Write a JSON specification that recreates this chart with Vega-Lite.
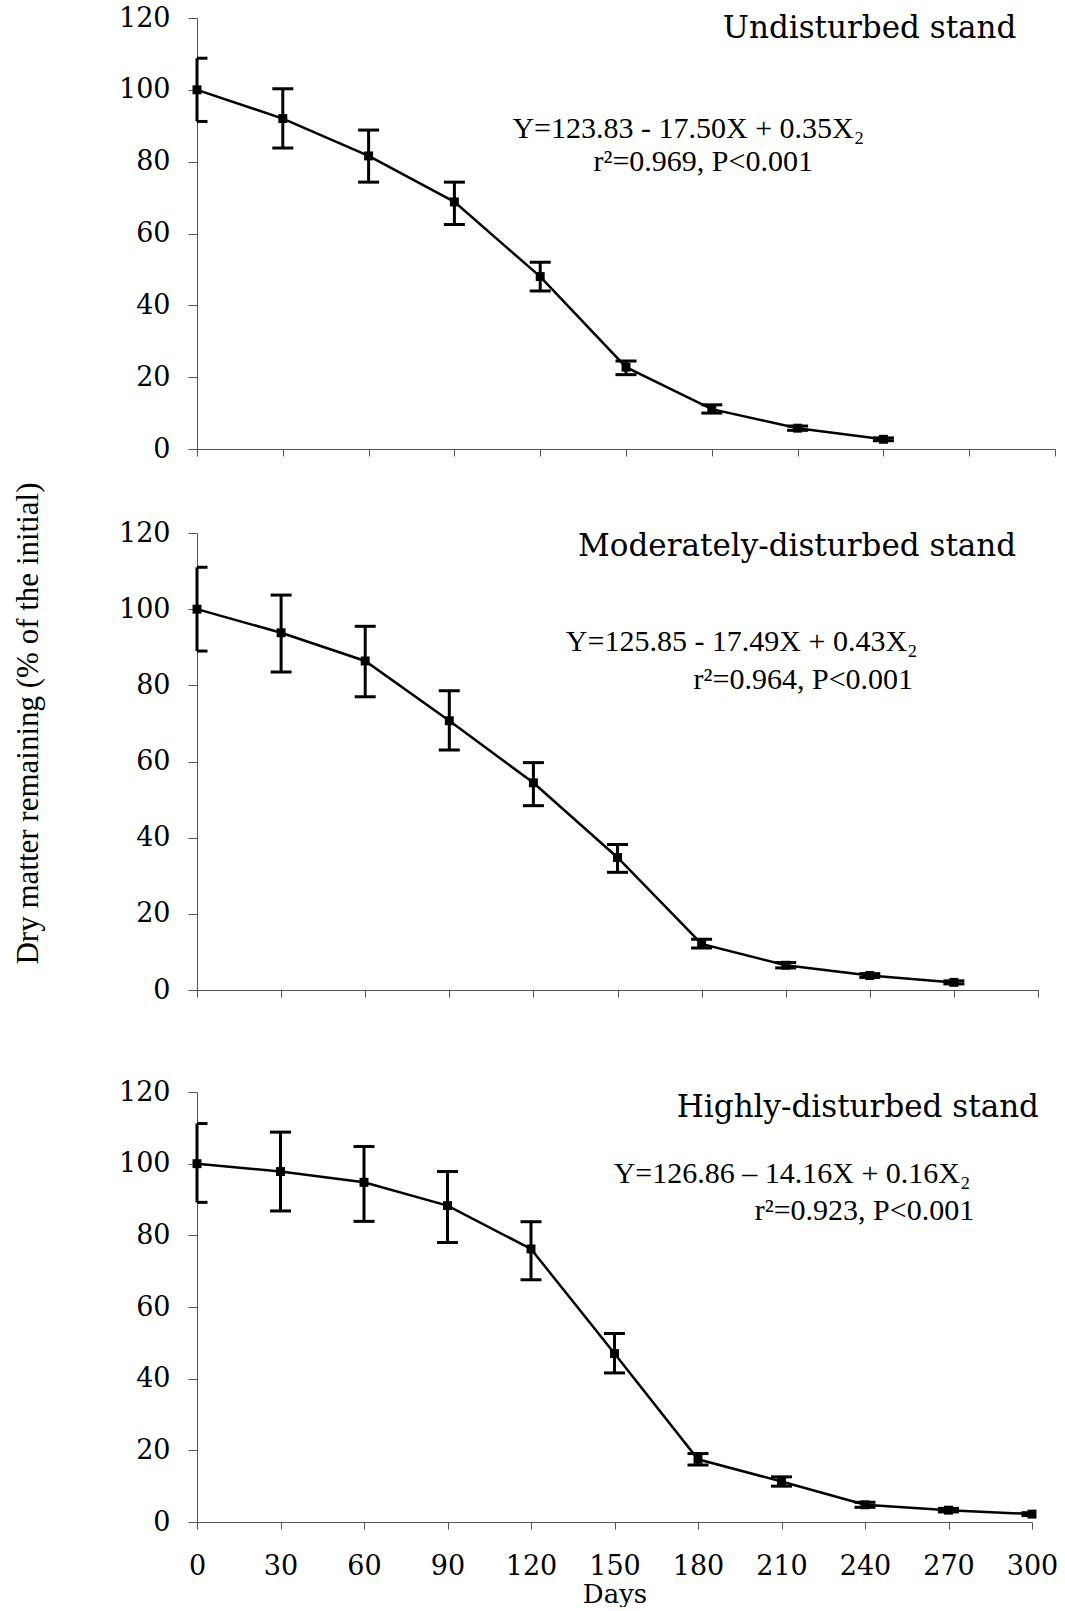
{
  "$schema": "https://vega.github.io/schema/vega-lite/v6.json",
  "background": "white",
  "padding": {"left": 12, "top": 4, "right": 5, "bottom": 0},
  "config": {
    "view": {"stroke": null},
    "axis": {"grid": false, "domainColor": "#555", "tickColor": "#555", "domainWidth": 1, "tickWidth": 1, "labelColor": "#000", "labelFont": "DejaVu Serif", "labelFontSize": 27, "labelFlush": false, "titleFont": "Liberation Serif", "titleFontWeight": "normal", "titleColor": "#000"},
    "axisY": {"tickSize": 9, "labelPadding": 18},
    "axisX": {"tickSize": 7}
  },
  "datasets": {
    "decay": [
      {"stand": "Undisturbed", "day": 0, "mean": 100, "lo": 91.2, "hi": 108.8},
      {"stand": "Undisturbed", "day": 30, "mean": 92, "lo": 83.8, "hi": 100.3},
      {"stand": "Undisturbed", "day": 60, "mean": 81.6, "lo": 74.3, "hi": 88.8},
      {"stand": "Undisturbed", "day": 90, "mean": 68.8, "lo": 62.5, "hi": 74.3},
      {"stand": "Undisturbed", "day": 120, "mean": 48, "lo": 44, "hi": 52},
      {"stand": "Undisturbed", "day": 150, "mean": 22.8, "lo": 20.7, "hi": 24.5},
      {"stand": "Undisturbed", "day": 180, "mean": 11.1, "lo": 10, "hi": 12.3},
      {"stand": "Undisturbed", "day": 210, "mean": 5.8, "lo": 5.2, "hi": 6.4},
      {"stand": "Undisturbed", "day": 240, "mean": 2.7, "lo": 2.3, "hi": 3.1},
      {"stand": "Moderately", "day": 0, "mean": 100, "lo": 89, "hi": 111},
      {"stand": "Moderately", "day": 30, "mean": 93.8, "lo": 83.5, "hi": 103.7},
      {"stand": "Moderately", "day": 60, "mean": 86.4, "lo": 77, "hi": 95.5},
      {"stand": "Moderately", "day": 90, "mean": 70.7, "lo": 63, "hi": 78.6},
      {"stand": "Moderately", "day": 120, "mean": 54.4, "lo": 48.4, "hi": 59.7},
      {"stand": "Moderately", "day": 150, "mean": 34.8, "lo": 30.9, "hi": 38.2},
      {"stand": "Moderately", "day": 180, "mean": 12.1, "lo": 11, "hi": 13.3},
      {"stand": "Moderately", "day": 210, "mean": 6.5, "lo": 5.8, "hi": 7.2},
      {"stand": "Moderately", "day": 240, "mean": 3.8, "lo": 3.3, "hi": 4.3},
      {"stand": "Moderately", "day": 270, "mean": 2.0, "lo": 1.6, "hi": 2.4},
      {"stand": "Highly", "day": 0, "mean": 100, "lo": 89.2, "hi": 111.2},
      {"stand": "Highly", "day": 30, "mean": 97.8, "lo": 86.8, "hi": 108.8},
      {"stand": "Highly", "day": 60, "mean": 94.8, "lo": 83.9, "hi": 104.8},
      {"stand": "Highly", "day": 90, "mean": 88.3, "lo": 78, "hi": 97.8},
      {"stand": "Highly", "day": 120, "mean": 76.2, "lo": 67.6, "hi": 83.8},
      {"stand": "Highly", "day": 150, "mean": 47, "lo": 41.6, "hi": 52.6},
      {"stand": "Highly", "day": 180, "mean": 17.5, "lo": 15.9, "hi": 19.1},
      {"stand": "Highly", "day": 210, "mean": 11.3, "lo": 10, "hi": 12.6},
      {"stand": "Highly", "day": 240, "mean": 4.8, "lo": 4.1, "hi": 5.5},
      {"stand": "Highly", "day": 270, "mean": 3.3, "lo": 2.8, "hi": 3.8},
      {"stand": "Highly", "day": 300, "mean": 2.2, "lo": 1.8, "hi": 2.6}
    ]
  },
  "spacing": 75,
  "bounds": "full",
  "vconcat": [
    {
      "spacing": 19,
      "bounds": "full",
      "vconcat": [
        {
          "width": 858,
          "height": 431,
          "layer": [
            {
              "data": {"name": "decay"},
              "transform": [{"filter": "datum.stand === 'Undisturbed'"}],
              "encoding": {
                "x": {"field": "day", "type": "quantitative", "scale": {"domain": [0, 300], "nice": false}, "axis": {"values": [0, 30, 60, 90, 120, 150, 180, 210, 240, 270, 300], "labels": false, "title": null}}
              },
              "layer": [
                {"mark": {"type": "rule", "color": "#000", "strokeWidth": 3}, "encoding": {"y": {"field": "lo", "type": "quantitative", "scale": {"domain": [0, 120], "nice": false}, "axis": {"values": [0, 20, 40, 60, 80, 100, 120], "title": null}}, "y2": {"field": "hi"}}},
                {"mark": {"type": "tick", "orient": "horizontal", "size": 21, "thickness": 3, "color": "#000", "opacity": 1, "clip": true}, "encoding": {"y": {"field": "lo", "type": "quantitative", "scale": {"domain": [0, 120], "nice": false}, "axis": {"values": [0, 20, 40, 60, 80, 100, 120], "title": null}}}},
                {"mark": {"type": "tick", "orient": "horizontal", "size": 21, "thickness": 3, "color": "#000", "opacity": 1, "clip": true}, "encoding": {"y": {"field": "hi", "type": "quantitative", "scale": {"domain": [0, 120], "nice": false}, "axis": {"values": [0, 20, 40, 60, 80, 100, 120], "title": null}}}},
                {"mark": {"type": "line", "color": "#000", "strokeWidth": 2.5}, "encoding": {"y": {"field": "mean", "type": "quantitative", "scale": {"domain": [0, 120], "nice": false}, "axis": {"values": [0, 20, 40, 60, 80, 100, 120], "title": null}}}},
                {"mark": {"type": "point", "shape": "square", "filled": true, "size": 80, "color": "#000", "opacity": 1}, "encoding": {"y": {"field": "mean", "type": "quantitative", "scale": {"domain": [0, 120], "nice": false}, "axis": {"values": [0, 20, 40, 60, 80, 100, 120], "title": null}}}}
              ]
            },
            {"data": {"values": [{}]}, "mark": {"type": "text", "align": "right", "baseline": "middle", "font": "DejaVu Serif", "fontSize": 31, "color": "#000", "text": "Undisturbed stand"}, "encoding": {"x": {"datum": 286.5, "type": "quantitative", "scale": {"domain": [0, 300], "nice": false}}, "y": {"datum": 117, "type": "quantitative", "scale": {"domain": [0, 120], "nice": false}}}},
            {"data": {"values": [{}]}, "mark": {"type": "text", "align": "center", "baseline": "middle", "font": "Liberation Serif", "fontSize": 30, "color": "#000", "text": "Y=123.83 - 17.50X + 0.35X₂"}, "encoding": {"x": {"datum": 171.8, "type": "quantitative", "scale": {"domain": [0, 300], "nice": false}}, "y": {"datum": 89.1, "type": "quantitative", "scale": {"domain": [0, 120], "nice": false}}}},
            {"data": {"values": [{}]}, "mark": {"type": "text", "align": "center", "baseline": "middle", "font": "Liberation Serif", "fontSize": 30, "color": "#000", "text": "r²=0.969, P<0.001"}, "encoding": {"x": {"datum": 177, "type": "quantitative", "scale": {"domain": [0, 300], "nice": false}}, "y": {"datum": 80, "type": "quantitative", "scale": {"domain": [0, 120], "nice": false}}}}
          ]
        },
        {
          "width": 841,
          "height": 457,
          "layer": [
            {
              "data": {"name": "decay"},
              "transform": [{"filter": "datum.stand === 'Moderately'"}],
              "encoding": {
                "x": {"field": "day", "type": "quantitative", "scale": {"domain": [0, 300], "nice": false}, "axis": {"values": [0, 30, 60, 90, 120, 150, 180, 210, 240, 270, 300], "labels": false, "title": null}}
              },
              "layer": [
                {"mark": {"type": "rule", "color": "#000", "strokeWidth": 3}, "encoding": {"y": {"field": "lo", "type": "quantitative", "scale": {"domain": [0, 120], "nice": false}, "axis": {"values": [0, 20, 40, 60, 80, 100, 120], "title": "Dry matter remaining (% of the initial)", "titleFontSize": 31, "titlePadding": 74, "titleY": 190}}, "y2": {"field": "hi"}}},
                {"mark": {"type": "tick", "orient": "horizontal", "size": 21, "thickness": 3, "color": "#000", "opacity": 1, "clip": true}, "encoding": {"y": {"field": "lo", "type": "quantitative", "scale": {"domain": [0, 120], "nice": false}, "axis": {"values": [0, 20, 40, 60, 80, 100, 120], "title": "Dry matter remaining (% of the initial)", "titleFontSize": 31, "titlePadding": 74, "titleY": 190}}}},
                {"mark": {"type": "tick", "orient": "horizontal", "size": 21, "thickness": 3, "color": "#000", "opacity": 1, "clip": true}, "encoding": {"y": {"field": "hi", "type": "quantitative", "scale": {"domain": [0, 120], "nice": false}, "axis": {"values": [0, 20, 40, 60, 80, 100, 120], "title": "Dry matter remaining (% of the initial)", "titleFontSize": 31, "titlePadding": 74, "titleY": 190}}}},
                {"mark": {"type": "line", "color": "#000", "strokeWidth": 2.5}, "encoding": {"y": {"field": "mean", "type": "quantitative", "scale": {"domain": [0, 120], "nice": false}, "axis": {"values": [0, 20, 40, 60, 80, 100, 120], "title": "Dry matter remaining (% of the initial)", "titleFontSize": 31, "titlePadding": 74, "titleY": 190}}}},
                {"mark": {"type": "point", "shape": "square", "filled": true, "size": 80, "color": "#000", "opacity": 1}, "encoding": {"y": {"field": "mean", "type": "quantitative", "scale": {"domain": [0, 120], "nice": false}, "axis": {"values": [0, 20, 40, 60, 80, 100, 120], "title": "Dry matter remaining (% of the initial)", "titleFontSize": 31, "titlePadding": 74, "titleY": 190}}}}
              ]
            },
            {"data": {"values": [{}]}, "mark": {"type": "text", "align": "right", "baseline": "middle", "font": "DejaVu Serif", "fontSize": 31, "color": "#000", "text": "Moderately-disturbed stand"}, "encoding": {"x": {"datum": 292.2, "type": "quantitative", "scale": {"domain": [0, 300], "nice": false}}, "y": {"datum": 116.3, "type": "quantitative", "scale": {"domain": [0, 120], "nice": false}}}},
            {"data": {"values": [{}]}, "mark": {"type": "text", "align": "center", "baseline": "middle", "font": "Liberation Serif", "fontSize": 30, "color": "#000", "text": "Y=125.85 - 17.49X + 0.43X₂"}, "encoding": {"x": {"datum": 194.3, "type": "quantitative", "scale": {"domain": [0, 300], "nice": false}}, "y": {"datum": 91.3, "type": "quantitative", "scale": {"domain": [0, 120], "nice": false}}}},
            {"data": {"values": [{}]}, "mark": {"type": "text", "align": "center", "baseline": "middle", "font": "Liberation Serif", "fontSize": 30, "color": "#000", "text": "r²=0.964, P<0.001"}, "encoding": {"x": {"datum": 216.3, "type": "quantitative", "scale": {"domain": [0, 300], "nice": false}}, "y": {"datum": 81.5, "type": "quantitative", "scale": {"domain": [0, 120], "nice": false}}}}
          ]
        }
      ]
    },
    {
      "width": 835,
      "height": 430,
      "layer": [
        {
          "data": {"name": "decay"},
          "transform": [{"filter": "datum.stand === 'Highly'"}],
          "encoding": {
            "x": {"field": "day", "type": "quantitative", "scale": {"domain": [0, 300], "nice": false}, "axis": {"values": [0, 30, 60, 90, 120, 150, 180, 210, 240, 270, 300], "labelPadding": 24, "title": "Days", "titleFont": "DejaVu Serif", "titleFontSize": 26, "titlePadding": 2}}
          },
          "layer": [
            {"mark": {"type": "rule", "color": "#000", "strokeWidth": 3}, "encoding": {"y": {"field": "lo", "type": "quantitative", "scale": {"domain": [0, 120], "nice": false}, "axis": {"values": [0, 20, 40, 60, 80, 100, 120], "title": null}}, "y2": {"field": "hi"}}},
            {"mark": {"type": "tick", "orient": "horizontal", "size": 21, "thickness": 3, "color": "#000", "opacity": 1, "clip": true}, "encoding": {"y": {"field": "lo", "type": "quantitative", "scale": {"domain": [0, 120], "nice": false}, "axis": {"values": [0, 20, 40, 60, 80, 100, 120], "title": null}}}},
            {"mark": {"type": "tick", "orient": "horizontal", "size": 21, "thickness": 3, "color": "#000", "opacity": 1, "clip": true}, "encoding": {"y": {"field": "hi", "type": "quantitative", "scale": {"domain": [0, 120], "nice": false}, "axis": {"values": [0, 20, 40, 60, 80, 100, 120], "title": null}}}},
            {"mark": {"type": "line", "color": "#000", "strokeWidth": 2.5}, "encoding": {"y": {"field": "mean", "type": "quantitative", "scale": {"domain": [0, 120], "nice": false}, "axis": {"values": [0, 20, 40, 60, 80, 100, 120], "title": null}}}},
            {"mark": {"type": "point", "shape": "square", "filled": true, "size": 80, "color": "#000", "opacity": 1}, "encoding": {"y": {"field": "mean", "type": "quantitative", "scale": {"domain": [0, 120], "nice": false}, "axis": {"values": [0, 20, 40, 60, 80, 100, 120], "title": null}}}}
          ]
        },
        {"data": {"values": [{}]}, "mark": {"type": "text", "align": "right", "baseline": "middle", "font": "DejaVu Serif", "fontSize": 31, "color": "#000", "text": "Highly-disturbed stand"}, "encoding": {"x": {"datum": 302.5, "type": "quantitative", "scale": {"domain": [0, 300], "nice": false}}, "y": {"datum": 115.4, "type": "quantitative", "scale": {"domain": [0, 120], "nice": false}}}},
        {"data": {"values": [{}]}, "mark": {"type": "text", "align": "center", "baseline": "middle", "font": "Liberation Serif", "fontSize": 30, "color": "#000", "text": "Y=126.86 – 14.16X + 0.16X₂"}, "encoding": {"x": {"datum": 213.8, "type": "quantitative", "scale": {"domain": [0, 300], "nice": false}}, "y": {"datum": 97.1, "type": "quantitative", "scale": {"domain": [0, 120], "nice": false}}}},
        {"data": {"values": [{}]}, "mark": {"type": "text", "align": "center", "baseline": "middle", "font": "Liberation Serif", "fontSize": 30, "color": "#000", "text": "r²=0.923, P<0.001"}, "encoding": {"x": {"datum": 239.8, "type": "quantitative", "scale": {"domain": [0, 300], "nice": false}}, "y": {"datum": 86.9, "type": "quantitative", "scale": {"domain": [0, 120], "nice": false}}}}
      ]
    }
  ]
}
